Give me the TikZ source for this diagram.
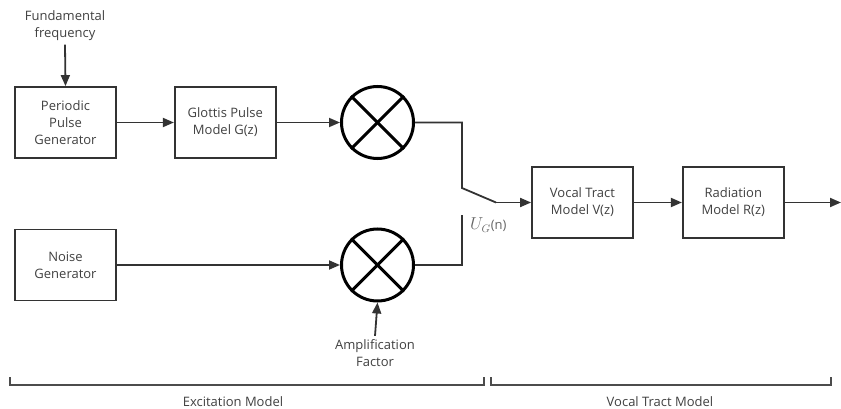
\documentclass[tikz,border=0pt]{standalone}
\usepackage{fontspec}
\setmainfont{Open Sans}
\usepackage{amsmath}
\usetikzlibrary{arrows.meta,positioning,calc}

\begin{document}
\begin{tikzpicture}[
  x=1pt, y=-1pt,
  node distance=57pt,
  block/.style={draw=black!80, line width=1.8pt,
                minimum width=101pt, minimum height=71pt,
                font=\fontsize{13}{17}\selectfont, text=black!75, align=center},
  mult/.style={circle, draw=black, line width=3pt, minimum size=72pt, inner sep=0pt},
  arr/.style={-{Triangle[length=11pt,width=9pt]}, line width=1.8pt, black!80},
  txt/.style={font=\fontsize{13}{17}\selectfont, text=black!75, align=center},
  brace/.style={line width=1.6pt, black!70}
]
\useasboundingbox (0,0) rectangle (841,409);

% Excitation part
\node[block] (pulse) at (65.5,122.5) {Periodic\\Pulse\\Generator};
\node[block, right=of pulse] (glottis) {Glottis Pulse\\Model G(z)};
\node[mult] (mulA) at (377.5,122.5) {};
\node[block] (noise) at (65.5,265) {Noise\\Generator};
\node[mult] (mulB) at (377.5,265) {};

% crosses in the multipliers
\foreach \m in {mulA,mulB}{
  \draw[line width=3pt] (\m.north east) -- (\m.south west);
  \draw[line width=3pt] (\m.north west) -- (\m.south east);
}

% inputs
\node[txt] (freq) at (65,26) {Fundamental\\frequency};
\node[txt] (gain) at (375,353) {Amplification\\Factor};

% Vocal tract part
\node[block] (vocal) at (582.5,202.5) {Vocal Tract\\Model V(z)};
\node[block, right=48pt of vocal] (radiation) {Radiation\\Model R(z)};

% switch points
\coordinate (swTop) at (462,188);
\coordinate (swEnd) at (496,202.5);
\coordinate (swLow) at (462,215);
\coordinate (out) at (841,202.5);
\node[text=black!60, anchor=west, inner sep=0pt] (ug) at (470,225)
      {\fontsize{16}{16}\selectfont$U_G$\fontsize{13}{13}\selectfont(n)};

% Arrows
\draw[arr] (freq.south) -- (pulse.north);
\draw[arr] (pulse) -- (glottis);
\draw[arr] (glottis) -- (mulA);
\draw[arr] (noise) -- (mulB);
\draw[arr] (gain.north) -- (mulB.south);
\draw[line width=1.8pt, black!80] (mulA.east) -| (swTop) -- (swEnd);
\draw[arr] (swEnd) -- (vocal.west);
\draw[line width=1.8pt, black!80] (mulB.east) -| (swLow);
\draw[arr] (vocal) -- (radiation);
\draw[arr] (radiation) -- (out);

% Model brackets
\draw[brace] (10,377) -- (10,385) -- (484,385) -- (484,377);
\draw[brace] (491,377) -- (491,385) -- (831,385) -- (831,377);
\node[txt] (excit) at (233,402) {Excitation Model};
\node[txt] (vtm) at (660,402) {Vocal Tract Model};

\end{tikzpicture}
\end{document}
